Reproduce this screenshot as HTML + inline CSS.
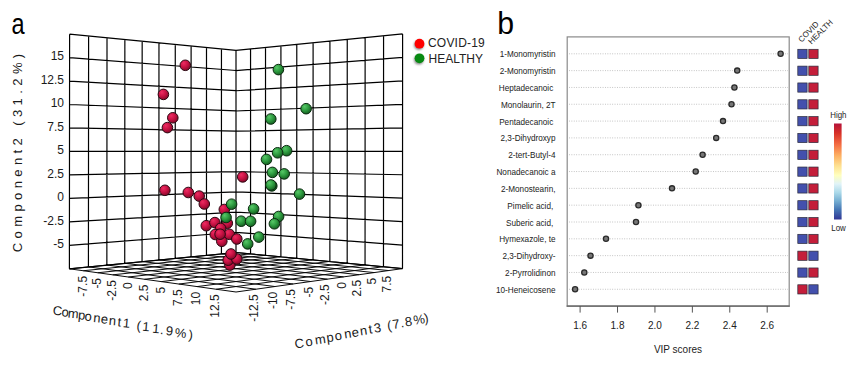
<!DOCTYPE html>
<html><head><meta charset="utf-8"><style>
html,body{margin:0;padding:0;background:#fff;}
body{width:861px;height:365px;overflow:hidden;}
svg{display:block;}
text{font-family:"Liberation Sans",sans-serif;}
.t11{font-size:12px;fill:#1a1a1a;}
.t8{font-size:8px;fill:#222;}
.t9{font-size:9.2px;fill:#222;}
.t10{font-size:10px;fill:#222;}
</style></head><body>
<svg width="861" height="365" viewBox="0 0 861 365">
<defs>
<radialGradient id="gr" cx="0.38" cy="0.34" r="0.7" fx="0.35" fy="0.3">
<stop offset="0" stop-color="#ee2c62"/><stop offset="0.5" stop-color="#c81244"/><stop offset="1" stop-color="#7e0826"/>
</radialGradient>
<radialGradient id="gg" cx="0.38" cy="0.34" r="0.7" fx="0.35" fy="0.3">
<stop offset="0" stop-color="#58c868"/><stop offset="0.5" stop-color="#2e9c40"/><stop offset="1" stop-color="#135a1e"/>
</radialGradient>
<linearGradient id="cbar" x1="0" y1="0" x2="0" y2="1">
<stop offset="0" stop-color="#b4123a"/><stop offset="0.1" stop-color="#d73027"/><stop offset="0.22" stop-color="#f46d43"/>
<stop offset="0.33" stop-color="#fdae61"/><stop offset="0.44" stop-color="#fee090"/><stop offset="0.54" stop-color="#ffffbf"/>
<stop offset="0.63" stop-color="#e0f3f8"/><stop offset="0.72" stop-color="#abd9e9"/><stop offset="0.81" stop-color="#74add1"/>
<stop offset="0.9" stop-color="#4575b4"/><stop offset="1" stop-color="#313695"/>
</linearGradient>
<filter id="sh" x="-50%" y="-50%" width="200%" height="200%"><feGaussianBlur stdDeviation="1.2"/></filter>
</defs>
<text transform="translate(11.4 33.8) scale(0.84 1.03)" style="font-size:28px;fill:#000">a</text>
<text transform="translate(497.3 33.8) scale(1.08 1.1)" style="font-size:28px;fill:#000">b</text>
<path d="M69.4 268.8L236 292M88.71 266.91L255.87 289.21M107.35 265.09L274.9 286.53M125.36 263.33L293.15 283.97M142.76 261.62L310.66 281.51M159.58 259.98L327.48 279.14M175.86 258.38L343.65 276.87M191.62 256.84L359.2 274.69M206.88 255.35L374.17 272.58M221.66 253.9L388.6 270.55M236 252.5L402.5 268.6M69.4 268.8L236 252.5M83.32 270.74L250.34 253.89M97.76 272.75L265.12 255.32M112.74 274.84L280.38 256.79M128.31 277L296.13 258.31M144.49 279.26L312.4 259.89M161.32 281.6L329.21 261.51M178.84 284.04L346.6 263.19M197.09 286.58L364.59 264.93M216.13 289.23L383.21 266.73M236 292L402.5 268.6" fill="none" stroke="#0a0a0a" stroke-width="1.0"/>
<path d="M69.4 268.8L69.6 34.2M88.43 266.94L88.6 36.04M106.86 265.13L107.01 37.82M124.73 263.39L124.86 39.55M142.06 261.69L142.17 41.22M158.88 260.05L158.97 42.85M175.21 258.45L175.27 44.42M191.06 256.9L191.11 45.96M206.47 255.39L206.5 47.45M221.44 253.92L221.46 48.89M236 252.5L236 50.3M69.4 268.8L236 252.5M69.42 245.31L236 232.26M69.44 221.83L236 212.03M69.46 198.36L236 191.8M69.48 174.89L236 171.57M69.5 151.43L236 151.35M69.52 127.97L236 131.13M69.54 104.52L236 110.92M69.56 81.07L236 90.71M69.58 57.63L236 70.5M69.6 34.2L236 50.3M236 252.5L236 50.3M250.55 253.91L250.55 48.87M265.51 255.35L265.52 47.39M280.9 256.84L280.92 45.88M296.74 258.37L296.78 44.32M313.06 259.95L313.1 42.71M329.87 261.58L329.92 41.05M347.19 263.25L347.25 39.35M365.05 264.98L365.13 37.59M383.48 266.76L383.57 35.77M402.5 268.6L402.6 33.9M236 252.5L402.5 268.6M236 232.29L402.51 245.14M236 212.08L402.52 221.68M236 191.86L402.53 198.22M236 171.65L402.54 174.75M236 151.43L402.55 151.29M236 131.21L402.56 127.81M236 110.98L402.57 104.34M236 90.76L402.58 80.86M236 70.53L402.59 57.38M236 50.3L402.6 33.9" fill="none" stroke="#000" stroke-width="1.2"/>
<text x="64" y="244.11" class="t11" text-anchor="end" dominant-baseline="central">-5</text>
<text x="64" y="220.63" class="t11" text-anchor="end" dominant-baseline="central">-2.5</text>
<text x="64" y="197.16" class="t11" text-anchor="end" dominant-baseline="central">0</text>
<text x="64" y="173.69" class="t11" text-anchor="end" dominant-baseline="central">2.5</text>
<text x="64" y="150.23" class="t11" text-anchor="end" dominant-baseline="central">5</text>
<text x="64" y="126.77" class="t11" text-anchor="end" dominant-baseline="central">7.5</text>
<text x="64" y="103.32" class="t11" text-anchor="end" dominant-baseline="central">10</text>
<text x="64" y="79.87" class="t11" text-anchor="end" dominant-baseline="central">12.5</text>
<text x="64" y="56.43" class="t11" text-anchor="end" dominant-baseline="central">15</text>
<text transform="translate(17.7 252.2) rotate(-90)" style="font-size:13px;letter-spacing:4.4px;fill:#1a1a1a" dominant-baseline="central">Component2 (31.2%)</text>
<text transform="translate(82.52 275.94) rotate(-90)" class="t11" text-anchor="end" dominant-baseline="central">-7.5</text>
<text transform="translate(96.96 277.95) rotate(-90)" class="t11" text-anchor="end" dominant-baseline="central">-5</text>
<text transform="translate(111.94 280.04) rotate(-90)" class="t11" text-anchor="end" dominant-baseline="central">-2.5</text>
<text transform="translate(127.51 282.2) rotate(-90)" class="t11" text-anchor="end" dominant-baseline="central">0</text>
<text transform="translate(143.69 284.46) rotate(-90)" class="t11" text-anchor="end" dominant-baseline="central">2.5</text>
<text transform="translate(160.52 286.8) rotate(-90)" class="t11" text-anchor="end" dominant-baseline="central">5</text>
<text transform="translate(178.04 289.24) rotate(-90)" class="t11" text-anchor="end" dominant-baseline="central">7.5</text>
<text transform="translate(196.29 291.78) rotate(-90)" class="t11" text-anchor="end" dominant-baseline="central">10</text>
<text transform="translate(215.33 294.43) rotate(-90)" class="t11" text-anchor="end" dominant-baseline="central">12.5</text>
<text transform="translate(253.87 294.41) rotate(-90)" class="t11" text-anchor="end" dominant-baseline="central">-12.5</text>
<text transform="translate(272.9 291.73) rotate(-90)" class="t11" text-anchor="end" dominant-baseline="central">-10</text>
<text transform="translate(291.15 289.17) rotate(-90)" class="t11" text-anchor="end" dominant-baseline="central">-7.5</text>
<text transform="translate(308.66 286.71) rotate(-90)" class="t11" text-anchor="end" dominant-baseline="central">-5</text>
<text transform="translate(325.48 284.34) rotate(-90)" class="t11" text-anchor="end" dominant-baseline="central">-2.5</text>
<text transform="translate(341.65 282.07) rotate(-90)" class="t11" text-anchor="end" dominant-baseline="central">0</text>
<text transform="translate(357.2 279.89) rotate(-90)" class="t11" text-anchor="end" dominant-baseline="central">2.5</text>
<text transform="translate(372.17 277.78) rotate(-90)" class="t11" text-anchor="end" dominant-baseline="central">5</text>
<text transform="translate(386.6 275.75) rotate(-90)" class="t11" text-anchor="end" dominant-baseline="central">7.5</text>
<text x="57.3" y="315.2" text-anchor="middle" transform="rotate(5 57.3 315.2)" style="font-size:13px;fill:#1a1a1a">C</text>
<text x="64.9" y="316.58" text-anchor="middle" transform="rotate(5 64.9 316.58)" style="font-size:13px;fill:#1a1a1a">o</text>
<text x="73" y="318.04" text-anchor="middle" transform="rotate(5 73 318.04)" style="font-size:13px;fill:#1a1a1a">m</text>
<text x="81.3" y="319.54" text-anchor="middle" transform="rotate(5 81.3 319.54)" style="font-size:13px;fill:#1a1a1a">p</text>
<text x="87.8" y="320.72" text-anchor="middle" transform="rotate(5 87.8 320.72)" style="font-size:13px;fill:#1a1a1a">o</text>
<text x="96.5" y="322.3" text-anchor="middle" transform="rotate(5 96.5 322.3)" style="font-size:13px;fill:#1a1a1a">n</text>
<text x="104" y="323.65" text-anchor="middle" transform="rotate(5 104 323.65)" style="font-size:13px;fill:#1a1a1a">e</text>
<text x="112" y="325.1" text-anchor="middle" transform="rotate(5 112 325.1)" style="font-size:13px;fill:#1a1a1a">n</text>
<text x="119" y="326.37" text-anchor="middle" transform="rotate(5 119 326.37)" style="font-size:13px;fill:#1a1a1a">t</text>
<text x="126.2" y="327.67" text-anchor="middle" transform="rotate(5 126.2 327.67)" style="font-size:13px;fill:#1a1a1a">1</text>
<text x="138.5" y="329.9" text-anchor="middle" transform="rotate(5 138.5 329.9)" style="font-size:13px;fill:#1a1a1a">(</text>
<text x="145.6" y="331.18" text-anchor="middle" transform="rotate(5 145.6 331.18)" style="font-size:13px;fill:#1a1a1a">1</text>
<text x="155.5" y="332.97" text-anchor="middle" transform="rotate(5 155.5 332.97)" style="font-size:13px;fill:#1a1a1a">1</text>
<text x="161.5" y="334.06" text-anchor="middle" transform="rotate(5 161.5 334.06)" style="font-size:13px;fill:#1a1a1a">.</text>
<text x="169" y="335.42" text-anchor="middle" transform="rotate(5 169 335.42)" style="font-size:13px;fill:#1a1a1a">9</text>
<text x="180.2" y="337.44" text-anchor="middle" transform="rotate(5 180.2 337.44)" style="font-size:13px;fill:#1a1a1a">%</text>
<text x="190.3" y="339.27" text-anchor="middle" transform="rotate(5 190.3 339.27)" style="font-size:13px;fill:#1a1a1a">)</text>
<text x="300" y="347.8" text-anchor="middle" transform="rotate(-8 300 347.8)" style="font-size:13px;fill:#1a1a1a">C</text>
<text x="309.5" y="345.9" text-anchor="middle" transform="rotate(-8 309.5 345.9)" style="font-size:13px;fill:#1a1a1a">o</text>
<text x="320.8" y="343.64" text-anchor="middle" transform="rotate(-8 320.8 343.64)" style="font-size:13px;fill:#1a1a1a">m</text>
<text x="330.6" y="341.68" text-anchor="middle" transform="rotate(-8 330.6 341.68)" style="font-size:13px;fill:#1a1a1a">p</text>
<text x="338.8" y="340.04" text-anchor="middle" transform="rotate(-8 338.8 340.04)" style="font-size:13px;fill:#1a1a1a">o</text>
<text x="348.4" y="338.12" text-anchor="middle" transform="rotate(-8 348.4 338.12)" style="font-size:13px;fill:#1a1a1a">n</text>
<text x="355.8" y="336.64" text-anchor="middle" transform="rotate(-8 355.8 336.64)" style="font-size:13px;fill:#1a1a1a">e</text>
<text x="364.1" y="334.98" text-anchor="middle" transform="rotate(-8 364.1 334.98)" style="font-size:13px;fill:#1a1a1a">n</text>
<text x="371.1" y="333.58" text-anchor="middle" transform="rotate(-8 371.1 333.58)" style="font-size:13px;fill:#1a1a1a">t</text>
<text x="378" y="332.2" text-anchor="middle" transform="rotate(-8 378 332.2)" style="font-size:13px;fill:#1a1a1a">3</text>
<text x="389.8" y="329.84" text-anchor="middle" transform="rotate(-8 389.8 329.84)" style="font-size:13px;fill:#1a1a1a">(</text>
<text x="396.5" y="328.5" text-anchor="middle" transform="rotate(-8 396.5 328.5)" style="font-size:13px;fill:#1a1a1a">7</text>
<text x="402.8" y="327.24" text-anchor="middle" transform="rotate(-8 402.8 327.24)" style="font-size:13px;fill:#1a1a1a">.</text>
<text x="409" y="326" text-anchor="middle" transform="rotate(-8 409 326)" style="font-size:13px;fill:#1a1a1a">8</text>
<text x="419.8" y="323.84" text-anchor="middle" transform="rotate(-8 419.8 323.84)" style="font-size:13px;fill:#1a1a1a">%</text>
<text x="426.8" y="322.44" text-anchor="middle" transform="rotate(-8 426.8 322.44)" style="font-size:13px;fill:#1a1a1a">)</text>
<circle cx="185.3" cy="65.3" r="5.3" fill="url(#gr)" stroke="#2a0812" stroke-width="1.0"/>
<circle cx="163.4" cy="94.4" r="5.3" fill="url(#gr)" stroke="#2a0812" stroke-width="1.0"/>
<circle cx="172.8" cy="117.8" r="5.3" fill="url(#gr)" stroke="#2a0812" stroke-width="1.0"/>
<circle cx="167.4" cy="127.6" r="5.3" fill="url(#gr)" stroke="#2a0812" stroke-width="1.0"/>
<circle cx="278.4" cy="69.6" r="5.3" fill="url(#gg)" stroke="#0b2a10" stroke-width="1.0"/>
<circle cx="306.1" cy="108.7" r="5.3" fill="url(#gg)" stroke="#0b2a10" stroke-width="1.0"/>
<circle cx="270.8" cy="119" r="5.3" fill="url(#gg)" stroke="#0b2a10" stroke-width="1.0"/>
<circle cx="286.6" cy="150.7" r="5.3" fill="url(#gg)" stroke="#0b2a10" stroke-width="1.0"/>
<circle cx="277.6" cy="152.8" r="5.3" fill="url(#gg)" stroke="#0b2a10" stroke-width="1.0"/>
<circle cx="266.5" cy="159.4" r="5.3" fill="url(#gg)" stroke="#0b2a10" stroke-width="1.0"/>
<circle cx="242.7" cy="176.9" r="5.3" fill="url(#gr)" stroke="#2a0812" stroke-width="1.0"/>
<circle cx="284.2" cy="173.9" r="5.3" fill="url(#gg)" stroke="#0b2a10" stroke-width="1.0"/>
<circle cx="272.4" cy="172.4" r="5.3" fill="url(#gg)" stroke="#0b2a10" stroke-width="1.0"/>
<circle cx="271.8" cy="185.9" r="5.3" fill="url(#gg)" stroke="#0b2a10" stroke-width="1.0"/>
<circle cx="270.9" cy="185" r="5.3" fill="url(#gg)" stroke="#0b2a10" stroke-width="1.0"/>
<circle cx="299.5" cy="194.1" r="5.3" fill="url(#gg)" stroke="#0b2a10" stroke-width="1.0"/>
<circle cx="164.9" cy="190.3" r="5.3" fill="url(#gr)" stroke="#2a0812" stroke-width="1.0"/>
<circle cx="188.3" cy="192.5" r="5.3" fill="url(#gr)" stroke="#2a0812" stroke-width="1.0"/>
<circle cx="199.2" cy="196.1" r="5.3" fill="url(#gr)" stroke="#2a0812" stroke-width="1.0"/>
<circle cx="204.3" cy="204" r="5.3" fill="url(#gr)" stroke="#2a0812" stroke-width="1.0"/>
<circle cx="253.6" cy="208.9" r="5.3" fill="url(#gg)" stroke="#0b2a10" stroke-width="1.0"/>
<circle cx="278.6" cy="216.5" r="5.3" fill="url(#gg)" stroke="#0b2a10" stroke-width="1.0"/>
<circle cx="274.4" cy="223.8" r="5.3" fill="url(#gg)" stroke="#0b2a10" stroke-width="1.0"/>
<circle cx="224.3" cy="209.5" r="5.3" fill="url(#gr)" stroke="#2a0812" stroke-width="1.0"/>
<circle cx="231.6" cy="204.2" r="5.3" fill="url(#gg)" stroke="#0b2a10" stroke-width="1.0"/>
<circle cx="227.3" cy="223.2" r="5.3" fill="url(#gr)" stroke="#2a0812" stroke-width="1.0"/>
<circle cx="226.1" cy="217.5" r="5.3" fill="url(#gg)" stroke="#0b2a10" stroke-width="1.0"/>
<circle cx="241.2" cy="221.2" r="5.3" fill="url(#gg)" stroke="#0b2a10" stroke-width="1.0"/>
<circle cx="250.6" cy="221.3" r="5.3" fill="url(#gg)" stroke="#0b2a10" stroke-width="1.0"/>
<circle cx="258.8" cy="237.1" r="5.3" fill="url(#gg)" stroke="#0b2a10" stroke-width="1.0"/>
<circle cx="247.7" cy="243.9" r="5.3" fill="url(#gg)" stroke="#0b2a10" stroke-width="1.0"/>
<circle cx="206.3" cy="225.7" r="5.3" fill="url(#gr)" stroke="#2a0812" stroke-width="1.0"/>
<circle cx="214.9" cy="222.6" r="5.3" fill="url(#gr)" stroke="#2a0812" stroke-width="1.0"/>
<circle cx="220.6" cy="228.4" r="5.3" fill="url(#gr)" stroke="#2a0812" stroke-width="1.0"/>
<circle cx="215.3" cy="234.5" r="5.3" fill="url(#gr)" stroke="#2a0812" stroke-width="1.0"/>
<circle cx="229.3" cy="234.3" r="5.3" fill="url(#gr)" stroke="#2a0812" stroke-width="1.0"/>
<circle cx="221.8" cy="241.3" r="5.3" fill="url(#gr)" stroke="#2a0812" stroke-width="1.0"/>
<circle cx="220.1" cy="234.2" r="5.3" fill="url(#gr)" stroke="#2a0812" stroke-width="1.0"/>
<circle cx="236.8" cy="239" r="5.3" fill="url(#gr)" stroke="#2a0812" stroke-width="1.0"/>
<circle cx="229.9" cy="265.1" r="5.3" fill="url(#gr)" stroke="#2a0812" stroke-width="1.0"/>
<circle cx="228.2" cy="260.2" r="5.3" fill="url(#gr)" stroke="#2a0812" stroke-width="1.0"/>
<circle cx="236.8" cy="259" r="5.3" fill="url(#gr)" stroke="#2a0812" stroke-width="1.0"/>
<circle cx="231" cy="254" r="5.3" fill="url(#gr)" stroke="#2a0812" stroke-width="1.0"/>
<circle cx="418.8" cy="45.2" r="4.8" fill="#888" filter="url(#sh)"/>
<circle cx="418.8" cy="59.8" r="4.8" fill="#888" filter="url(#sh)"/>
<circle cx="419.5" cy="43.7" r="4.9" fill="#ff0000"/>
<circle cx="419.5" cy="58.3" r="4.9" fill="#078a12"/>
<text x="428" y="47.3" style="font-size:12px;letter-spacing:0.2px;fill:#222">COVID-19</text>
<text x="428.5" y="63.4" style="font-size:12px;fill:#222">HEALTHY</text>
<rect x="567.2" y="36.9" width="222" height="269.1" fill="none" stroke="#8a8a8a" stroke-width="1.2"/>
<line x1="566.6" y1="306.2" x2="789.8" y2="306.2" stroke="#606060" stroke-width="1.3"/>
<line x1="569" y1="53.8" x2="788" y2="53.8" stroke="#b8b8b8" stroke-width="0.9" stroke-dasharray="0.9 1.5"/>
<line x1="569" y1="70.62" x2="788" y2="70.62" stroke="#b8b8b8" stroke-width="0.9" stroke-dasharray="0.9 1.5"/>
<line x1="569" y1="87.44" x2="788" y2="87.44" stroke="#b8b8b8" stroke-width="0.9" stroke-dasharray="0.9 1.5"/>
<line x1="569" y1="104.26" x2="788" y2="104.26" stroke="#b8b8b8" stroke-width="0.9" stroke-dasharray="0.9 1.5"/>
<line x1="569" y1="121.08" x2="788" y2="121.08" stroke="#b8b8b8" stroke-width="0.9" stroke-dasharray="0.9 1.5"/>
<line x1="569" y1="137.9" x2="788" y2="137.9" stroke="#b8b8b8" stroke-width="0.9" stroke-dasharray="0.9 1.5"/>
<line x1="569" y1="154.72" x2="788" y2="154.72" stroke="#b8b8b8" stroke-width="0.9" stroke-dasharray="0.9 1.5"/>
<line x1="569" y1="171.54" x2="788" y2="171.54" stroke="#b8b8b8" stroke-width="0.9" stroke-dasharray="0.9 1.5"/>
<line x1="569" y1="188.36" x2="788" y2="188.36" stroke="#b8b8b8" stroke-width="0.9" stroke-dasharray="0.9 1.5"/>
<line x1="569" y1="205.18" x2="788" y2="205.18" stroke="#b8b8b8" stroke-width="0.9" stroke-dasharray="0.9 1.5"/>
<line x1="569" y1="222" x2="788" y2="222" stroke="#b8b8b8" stroke-width="0.9" stroke-dasharray="0.9 1.5"/>
<line x1="569" y1="238.82" x2="788" y2="238.82" stroke="#b8b8b8" stroke-width="0.9" stroke-dasharray="0.9 1.5"/>
<line x1="569" y1="255.64" x2="788" y2="255.64" stroke="#b8b8b8" stroke-width="0.9" stroke-dasharray="0.9 1.5"/>
<line x1="569" y1="272.46" x2="788" y2="272.46" stroke="#b8b8b8" stroke-width="0.9" stroke-dasharray="0.9 1.5"/>
<line x1="569" y1="289.28" x2="788" y2="289.28" stroke="#b8b8b8" stroke-width="0.9" stroke-dasharray="0.9 1.5"/>
<circle cx="780.6" cy="53.8" r="2.6" fill="#777" stroke="#2a2a2a" stroke-width="1.3"/>
<text transform="translate(555.5 57.1) scale(0.89 1)" class="t9" text-anchor="end">1-Monomyristin</text>
<rect x="797.8" y="49.3" width="9.3" height="9.2" fill="#4350ad" stroke="#2a2a3a" stroke-width="0.7"/>
<rect x="808.8" y="49.3" width="9.3" height="9.2" fill="#c41e3a" stroke="#2a2a3a" stroke-width="0.7"/>
<circle cx="737.2" cy="70.62" r="2.6" fill="#777" stroke="#2a2a2a" stroke-width="1.3"/>
<text transform="translate(555.5 73.95) scale(0.89 1)" class="t9" text-anchor="end">2-Monomyristin</text>
<rect x="797.8" y="66.12" width="9.3" height="9.2" fill="#4350ad" stroke="#2a2a3a" stroke-width="0.7"/>
<rect x="808.8" y="66.12" width="9.3" height="9.2" fill="#c41e3a" stroke="#2a2a3a" stroke-width="0.7"/>
<circle cx="734.4" cy="87.44" r="2.6" fill="#777" stroke="#2a2a2a" stroke-width="1.3"/>
<text transform="translate(555.5 90.8) scale(0.89 1)" class="t9" text-anchor="end">Heptadecanoic </text>
<rect x="797.8" y="82.94" width="9.3" height="9.2" fill="#4350ad" stroke="#2a2a3a" stroke-width="0.7"/>
<rect x="808.8" y="82.94" width="9.3" height="9.2" fill="#c41e3a" stroke="#2a2a3a" stroke-width="0.7"/>
<circle cx="731.5" cy="104.26" r="2.6" fill="#777" stroke="#2a2a2a" stroke-width="1.3"/>
<text transform="translate(555.5 107.65) scale(0.89 1)" class="t9" text-anchor="end">Monolaurin, 2T</text>
<rect x="797.8" y="99.76" width="9.3" height="9.2" fill="#4350ad" stroke="#2a2a3a" stroke-width="0.7"/>
<rect x="808.8" y="99.76" width="9.3" height="9.2" fill="#c41e3a" stroke="#2a2a3a" stroke-width="0.7"/>
<circle cx="723" cy="121.08" r="2.6" fill="#777" stroke="#2a2a2a" stroke-width="1.3"/>
<text transform="translate(555.5 124.5) scale(0.89 1)" class="t9" text-anchor="end">Pentadecanoic </text>
<rect x="797.8" y="116.58" width="9.3" height="9.2" fill="#4350ad" stroke="#2a2a3a" stroke-width="0.7"/>
<rect x="808.8" y="116.58" width="9.3" height="9.2" fill="#c41e3a" stroke="#2a2a3a" stroke-width="0.7"/>
<circle cx="716.2" cy="137.9" r="2.6" fill="#777" stroke="#2a2a2a" stroke-width="1.3"/>
<text transform="translate(555.5 141.35) scale(0.89 1)" class="t9" text-anchor="end">2,3-Dihydroxyp</text>
<rect x="797.8" y="133.4" width="9.3" height="9.2" fill="#4350ad" stroke="#2a2a3a" stroke-width="0.7"/>
<rect x="808.8" y="133.4" width="9.3" height="9.2" fill="#c41e3a" stroke="#2a2a3a" stroke-width="0.7"/>
<circle cx="702.6" cy="154.72" r="2.6" fill="#777" stroke="#2a2a2a" stroke-width="1.3"/>
<text transform="translate(555.5 158.2) scale(0.89 1)" class="t9" text-anchor="end">2-tert-Butyl-4</text>
<rect x="797.8" y="150.22" width="9.3" height="9.2" fill="#4350ad" stroke="#2a2a3a" stroke-width="0.7"/>
<rect x="808.8" y="150.22" width="9.3" height="9.2" fill="#c41e3a" stroke="#2a2a3a" stroke-width="0.7"/>
<circle cx="695.7" cy="171.54" r="2.6" fill="#777" stroke="#2a2a2a" stroke-width="1.3"/>
<text transform="translate(555.5 175.05) scale(0.89 1)" class="t9" text-anchor="end">Nonadecanoic a</text>
<rect x="797.8" y="167.04" width="9.3" height="9.2" fill="#4350ad" stroke="#2a2a3a" stroke-width="0.7"/>
<rect x="808.8" y="167.04" width="9.3" height="9.2" fill="#c41e3a" stroke="#2a2a3a" stroke-width="0.7"/>
<circle cx="672" cy="188.36" r="2.6" fill="#777" stroke="#2a2a2a" stroke-width="1.3"/>
<text transform="translate(555.5 191.9) scale(0.89 1)" class="t9" text-anchor="end">2-Monostearin,</text>
<rect x="797.8" y="183.86" width="9.3" height="9.2" fill="#4350ad" stroke="#2a2a3a" stroke-width="0.7"/>
<rect x="808.8" y="183.86" width="9.3" height="9.2" fill="#c41e3a" stroke="#2a2a3a" stroke-width="0.7"/>
<circle cx="638.4" cy="205.18" r="2.6" fill="#777" stroke="#2a2a2a" stroke-width="1.3"/>
<text transform="translate(555.5 208.75) scale(0.89 1)" class="t9" text-anchor="end">Pimelic acid, </text>
<rect x="797.8" y="200.68" width="9.3" height="9.2" fill="#4350ad" stroke="#2a2a3a" stroke-width="0.7"/>
<rect x="808.8" y="200.68" width="9.3" height="9.2" fill="#c41e3a" stroke="#2a2a3a" stroke-width="0.7"/>
<circle cx="636" cy="222" r="2.6" fill="#777" stroke="#2a2a2a" stroke-width="1.3"/>
<text transform="translate(555.5 225.6) scale(0.89 1)" class="t9" text-anchor="end">Suberic acid, </text>
<rect x="797.8" y="217.5" width="9.3" height="9.2" fill="#4350ad" stroke="#2a2a3a" stroke-width="0.7"/>
<rect x="808.8" y="217.5" width="9.3" height="9.2" fill="#c41e3a" stroke="#2a2a3a" stroke-width="0.7"/>
<circle cx="606" cy="238.82" r="2.6" fill="#777" stroke="#2a2a2a" stroke-width="1.3"/>
<text transform="translate(555.5 242.45) scale(0.89 1)" class="t9" text-anchor="end">Hymexazole, te</text>
<rect x="797.8" y="234.32" width="9.3" height="9.2" fill="#4350ad" stroke="#2a2a3a" stroke-width="0.7"/>
<rect x="808.8" y="234.32" width="9.3" height="9.2" fill="#c41e3a" stroke="#2a2a3a" stroke-width="0.7"/>
<circle cx="590.5" cy="255.64" r="2.6" fill="#777" stroke="#2a2a2a" stroke-width="1.3"/>
<text transform="translate(555.5 259.3) scale(0.89 1)" class="t9" text-anchor="end">2,3-Dihydroxy-</text>
<rect x="797.8" y="251.14" width="9.3" height="9.2" fill="#c41e3a" stroke="#2a2a3a" stroke-width="0.7"/>
<rect x="808.8" y="251.14" width="9.3" height="9.2" fill="#4350ad" stroke="#2a2a3a" stroke-width="0.7"/>
<circle cx="584.3" cy="272.46" r="2.6" fill="#777" stroke="#2a2a2a" stroke-width="1.3"/>
<text transform="translate(555.5 276.15) scale(0.89 1)" class="t9" text-anchor="end">2-Pyrrolidinon</text>
<rect x="797.8" y="267.96" width="9.3" height="9.2" fill="#4350ad" stroke="#2a2a3a" stroke-width="0.7"/>
<rect x="808.8" y="267.96" width="9.3" height="9.2" fill="#c41e3a" stroke="#2a2a3a" stroke-width="0.7"/>
<circle cx="575.1" cy="289.28" r="2.6" fill="#777" stroke="#2a2a2a" stroke-width="1.3"/>
<text transform="translate(555.5 293) scale(0.89 1)" class="t9" text-anchor="end">10-Heneicosene</text>
<rect x="797.8" y="284.78" width="9.3" height="9.2" fill="#c41e3a" stroke="#2a2a3a" stroke-width="0.7"/>
<rect x="808.8" y="284.78" width="9.3" height="9.2" fill="#4350ad" stroke="#2a2a3a" stroke-width="0.7"/>
<line x1="580.1" y1="306" x2="580.1" y2="312.6" stroke="#555" stroke-width="1.0"/>
<text x="580.1" y="325.8" class="t10" text-anchor="middle" dominant-baseline="central">1.6</text>
<line x1="617.52" y1="306" x2="617.52" y2="312.6" stroke="#555" stroke-width="1.0"/>
<text x="617.52" y="325.8" class="t10" text-anchor="middle" dominant-baseline="central">1.8</text>
<line x1="654.94" y1="306" x2="654.94" y2="312.6" stroke="#555" stroke-width="1.0"/>
<text x="654.94" y="325.8" class="t10" text-anchor="middle" dominant-baseline="central">2.0</text>
<line x1="692.36" y1="306" x2="692.36" y2="312.6" stroke="#555" stroke-width="1.0"/>
<text x="692.36" y="325.8" class="t10" text-anchor="middle" dominant-baseline="central">2.2</text>
<line x1="729.78" y1="306" x2="729.78" y2="312.6" stroke="#555" stroke-width="1.0"/>
<text x="729.78" y="325.8" class="t10" text-anchor="middle" dominant-baseline="central">2.4</text>
<line x1="767.2" y1="306" x2="767.2" y2="312.6" stroke="#555" stroke-width="1.0"/>
<text x="767.2" y="325.8" class="t10" text-anchor="middle" dominant-baseline="central">2.6</text>
<text x="678" y="349" class="t10" text-anchor="middle" dominant-baseline="central">VIP scores</text>
<text transform="translate(801.5 42.7) rotate(-45)" style="font-size:8px;fill:#222">COVID</text>
<text transform="translate(811.5 44.7) rotate(-45)" style="font-size:8px;fill:#222">HEALTH</text>
<rect x="834" y="123.5" width="7.6" height="96" fill="url(#cbar)"/>
<text transform="translate(838.3 117.7) scale(0.88 1)" style="font-size:9px;fill:#222" text-anchor="middle">High</text>
<text transform="translate(838.5 230.6) scale(0.88 1)" style="font-size:9px;fill:#222" text-anchor="middle">Low</text>
</svg>
</body></html>
